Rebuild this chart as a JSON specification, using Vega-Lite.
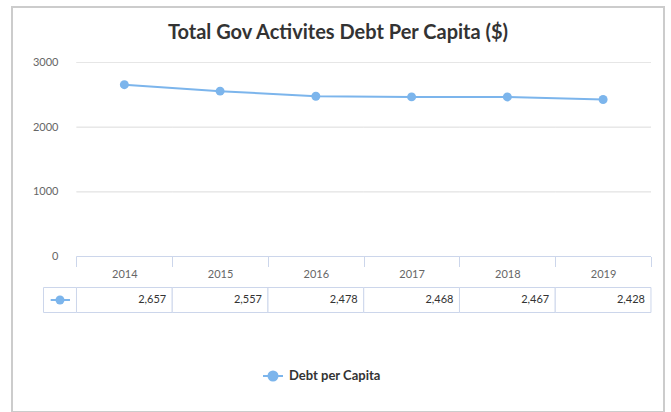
{
  "$schema": "https://vega.github.io/schema/vega-lite/v6.json",
  "width": 652,
  "height": 405,
  "autosize": {"type": "none"},
  "padding": {"left": 12, "top": 7, "right": 7, "bottom": 0},
  "background": "white",
  "config": {"font": "Lato", "view": {"stroke": "#cccccc", "strokeWidth": 2}},
  "title": {"text": "Total Gov Activites Debt Per Capita ($)", "fontSize": 20, "font": "Lato", "fontWeight": "bold", "color": "#333333", "anchor": "middle", "frame": "group", "offset": -36},
  "data": {"values": [
    {"year": "2014", "value": 2657, "series": "Debt per Capita"},
    {"year": "2015", "value": 2557, "series": "Debt per Capita"},
    {"year": "2016", "value": 2478, "series": "Debt per Capita"},
    {"year": "2017", "value": 2468, "series": "Debt per Capita"},
    {"year": "2018", "value": 2467, "series": "Debt per Capita"},
    {"year": "2019", "value": 2428, "series": "Debt per Capita"}
  ]},
  "layer": [
    {
      "mark": {"type": "line", "color": "#7cb5ec", "strokeWidth": 2},
      "encoding": {
        "x": {"field": "year", "type": "nominal", "scale": {"type": "band", "paddingInner": 0, "paddingOuter": 0.4047, "align": 0.832},
          "axis": {"title": null, "orient": "bottom", "offset": -155.5, "domain": false, "ticks": true, "tickBand": "extent", "tickSize": 10, "tickColor": "#ccd6eb", "tickWidth": 1, "labelColor": "#666666", "labelFontSize": 11, "labelFont": "Lato", "labelPadding": 2, "labelAngle": 0, "grid": false}},
        "y": {"field": "value", "type": "quantitative", "scale": {"domain": [-2404.5, 3858], "nice": false, "zero": false},
          "axis": {"title": null, "values": [0, 1000, 2000, 3000], "format": "d", "grid": false, "domain": false, "ticks": false, "offset": -64.5, "labelPadding": 18.5, "labelColor": "#666666", "labelFontSize": 11, "labelFont": "Lato"}},
        "color": {"field": "series", "type": "nominal", "scale": {"range": ["#7cb5ec"]},
          "legend": {"title": null, "orient": "none", "legendX": 250, "legendY": 358, "padding": 0,
            "symbolType": "M-1,0L-0.45,0M0.45,0A0.45,0.45,0,1,1,-0.45,0A0.45,0.45,0,1,1,0.45,0M0.45,0L1,0",
            "symbolSize": 400, "symbolStrokeWidth": 2, "symbolFillColor": "#7cb5ec", "symbolStrokeColor": "#7cb5ec",
            "labelFont": "Lato", "labelFontSize": 13, "labelFontWeight": "bold", "labelColor": "#333333", "labelOffset": 5,
            "encode": {"symbols": {"update": {"fill": {"value": "#7cb5ec"}, "stroke": {"value": "#7cb5ec"}, "strokeWidth": {"value": 2}}}}}}
      }
    },
    {
      "mark": {"type": "rect", "fill": null, "stroke": "#e6e6e6", "strokeWidth": 1},
      "encoding": {"x": {"field": "year", "type": "nominal"}, "y": {"datum": 1000}, "y2": {"datum": 1000}}
    },
    {
      "mark": {"type": "rect", "fill": null, "stroke": "#e6e6e6", "strokeWidth": 1},
      "encoding": {"x": {"field": "year", "type": "nominal"}, "y": {"datum": 2000}, "y2": {"datum": 2000}}
    },
    {
      "mark": {"type": "rect", "fill": null, "stroke": "#e6e6e6", "strokeWidth": 1},
      "encoding": {"x": {"field": "year", "type": "nominal"}, "y": {"datum": 3000}, "y2": {"datum": 3000}}
    },
    {
      "mark": {"type": "rect", "fill": null, "stroke": "#ccd6eb", "strokeWidth": 1},
      "encoding": {"x": {"field": "year", "type": "nominal"}, "y": {"datum": 0}, "y2": {"datum": 0}}
    },
    {
      "mark": {"type": "rect", "fill": "white", "stroke": "#ccd6eb", "strokeWidth": 1},
      "encoding": {"x": {"field": "year", "type": "nominal"}, "y": {"datum": -479.4}, "y2": {"datum": -865.7}}
    },
    {
      "data": {"values": [{"series": "Debt per Capita"}]},
      "mark": {"type": "rect", "fill": "white", "stroke": "#ccd6eb", "strokeWidth": 1},
      "encoding": {"x": {"datum": "2014", "bandPosition": -0.3444}, "x2": {"datum": "2014", "bandPosition": 0}, "y": {"datum": -479.4}, "y2": {"datum": -865.7}}
    },
    {
      "data": {"values": [{"series": "Debt per Capita"}]},
      "mark": {"type": "rule", "color": "#7cb5ec", "strokeWidth": 2},
      "encoding": {"x": {"datum": "2014", "bandPosition": -0.2695}, "x2": {"datum": "2014", "bandPosition": -0.068}, "y": {"datum": -672.6}}
    },
    {
      "data": {"values": [{"series": "Debt per Capita"}]},
      "mark": {"type": "point", "filled": true, "color": "#7cb5ec", "size": 80, "opacity": 1},
      "encoding": {"x": {"datum": "2014", "bandPosition": -0.1723}, "y": {"datum": -672.6}}
    },
    {
      "mark": {"type": "text", "align": "right", "baseline": "middle", "dx": -6, "fontSize": 11, "color": "#333333", "font": "Lato"},
      "encoding": {"x": {"field": "year", "type": "nominal", "bandPosition": 1}, "y": {"datum": -672.6}, "text": {"field": "value", "type": "quantitative", "format": ","}}
    },
    {
      "mark": {"type": "point", "filled": true, "color": "#7cb5ec", "size": 80, "opacity": 1},
      "encoding": {"x": {"field": "year", "type": "nominal"}, "y": {"field": "value", "type": "quantitative"}}
    }
  ]
}
